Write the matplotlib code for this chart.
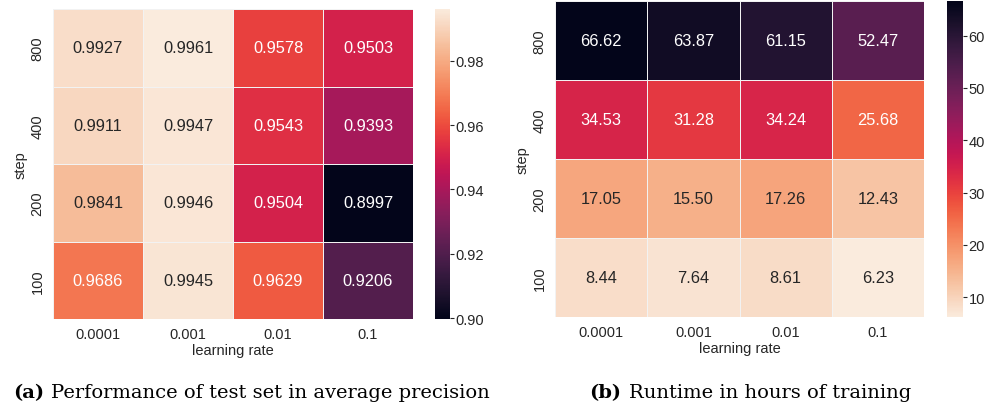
import matplotlib
matplotlib.use("Agg")
import matplotlib.pyplot as plt
import numpy as np
import seaborn as sns

plt.rcParams['font.family'] = ['Liberation Sans', 'DejaVu Sans']

lr_labels = ["0.0001", "0.001", "0.01", "0.1"]
step_labels = ["800", "400", "200", "100"]

# average precision on the test set, rows = step (800 at top)
ap = np.array([
    [0.9927, 0.9961, 0.9578, 0.9503],
    [0.9911, 0.9947, 0.9543, 0.9393],
    [0.9841, 0.9946, 0.9504, 0.8997],
    [0.9686, 0.9945, 0.9629, 0.9206],
])

# training runtime in hours
hours = np.array([
    [66.62, 63.87, 61.15, 52.47],
    [34.53, 31.28, 34.24, 25.68],
    [17.05, 15.50, 17.26, 12.43],
    [8.44, 7.64, 8.61, 6.23],
])

fig = plt.figure(figsize=(9.89, 4.10), dpi=100)

ax1 = fig.add_axes([0.0536, 0.2195, 0.364, 0.756])
cax1 = fig.add_axes([0.4398, 0.2195, 0.0152, 0.756])
ax2 = fig.add_axes([0.5612, 0.2244, 0.3731, 0.7707])
cax2 = fig.add_axes([0.9575, 0.2244, 0.0162, 0.7707])

rocket = sns.color_palette("rocket", as_cmap=True)
rocket_r = sns.color_palette("rocket_r", as_cmap=True)

sns.heatmap(ap, ax=ax1, cbar_ax=cax1, cmap=rocket, annot=True, fmt=".4f",
            linewidths=0.5, linecolor="#f2f2f2",
            annot_kws={"size": 11.8},
            xticklabels=lr_labels, yticklabels=step_labels)
sns.heatmap(hours, ax=ax2, cbar_ax=cax2, cmap=rocket_r, annot=True, fmt=".2f",
            linewidths=0.5, linecolor="#f2f2f2",
            annot_kws={"size": 11.8},
            xticklabels=lr_labels, yticklabels=step_labels)

for ax in (ax1, ax2):
    ax.set_xlabel("learning rate", fontsize=10.5, color="#262626", labelpad=1)
    ax.set_ylabel("step", fontsize=10.5, color="#262626", labelpad=2)
    ax.tick_params(axis="both", length=0, labelsize=10.5, labelcolor="#262626", pad=6)
    plt.setp(ax.get_yticklabels(), rotation=90, va="center")

cax1.set_yticks([0.90, 0.92, 0.94, 0.96, 0.98])
cax1.set_yticklabels(["0.90", "0.92", "0.94", "0.96", "0.98"])
cax2.set_yticks([10, 20, 30, 40, 50, 60])
for cax in (cax1, cax2):
    cax.tick_params(axis="y", length=3, width=0.8, color="#262626",
                    labelsize=10.5, labelcolor="#262626", pad=1)
    for s in cax.spines.values():
        s.set_visible(False)

# sub-figure captions
cap = ["DejaVu Serif"]
fig.text(0.013, 0.029, "(a)", fontsize=14, family=cap, weight="bold", va="baseline")
fig.text(0.0516, 0.029, "Performance of test set in average precision", fontsize=14,
         family=cap, va="baseline")
fig.text(0.5955, 0.029, "(b)", fontsize=14, family=cap, weight="bold", va="baseline")
fig.text(0.6355, 0.029, "Runtime in hours of training", fontsize=14,
         family=cap, va="baseline")

fig.savefig("out.png", dpi=100)
